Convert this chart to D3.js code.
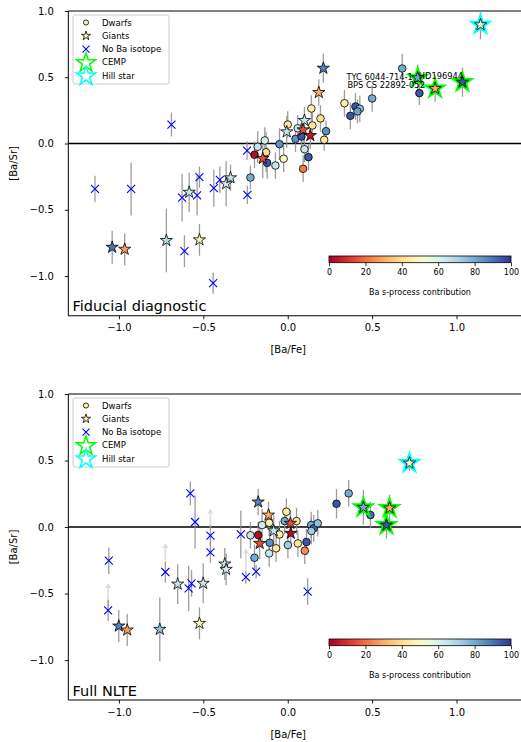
<!DOCTYPE html>
<html>
<head>
<meta charset="utf-8">
<script src="https://cdn.jsdelivr.net/npm/d3@7"></script>
<style>
  html, body { margin: 0; padding: 0; background: #fff; }
  svg { display: block; font-family: "DejaVu Sans", sans-serif; }
</style>
</head>
<body>
<svg id="chart" width="521" height="742"></svg>
<script>
// [Ba/Fe], [Ba/Sr], error, s-process fraction (%)
const fidDwarfs = [
  [-0.221, -0.257, 0.09, 80], [-0.197, -0.085, 0.10, 3], [-0.178, -0.025, 0.12, 65],
  [-0.136, 0.023, 0.10, 62], [-0.128, -0.066, 0.15, 40], [-0.122, -0.146, 0.12, 95],
  [-0.073, -0.166, 0.10, 65], [-0.049, -0.005, 0.12, 85], [-0.024, -0.115, 0.10, 50],
  [0.000, 0.143, 0.10, 43], [0.046, 0.035, 0.10, 85], [0.059, 0.115, 0.10, 65],
  [0.081, 0.053, 0.10, 95], [0.099, -0.043, 0.10, 65], [0.123, -0.103, 0.10, 95],
  [0.091, -0.191, 0.10, 22], [0.140, 0.264, 0.10, 45], [0.146, 0.136, 0.10, 42],
  [0.194, 0.189, 0.10, 40], [0.227, 0.093, 0.08, 85], [0.216, 0.028, 0.08, 42],
  [0.336, 0.304, 0.10, 45], [0.401, 0.279, 0.10, 95], [0.371, 0.209, 0.10, 95],
  [0.427, 0.262, 0.10, 75], [0.413, 0.242, 0.09, 82], [0.500, 0.340, 0.10, 80],
  [0.678, 0.566, 0.11, 80], [0.780, 0.380, 0.09, 95]
];
const fidGiants = [
  [-1.040, -0.783, 0.125, 90], [-0.966, -0.798, 0.12, 28], [-0.719, -0.732, 0.24, 68],
  [-0.523, -0.727, 0.12, 47], [-0.584, -0.368, 0.15, 65], [-0.365, -0.304, 0.17, 62],
  [-0.339, -0.259, 0.10, 66], [-0.148, -0.113, 0.15, 15], [-0.006, 0.088, 0.12, 65],
  [0.099, 0.174, 0.10, 65], [0.091, 0.103, 0.10, 15], [0.134, 0.060, 0.10, 5],
  [0.211, 0.568, 0.11, 88], [0.184, 0.385, 0.10, 30]
];
const fidCEMP = [
  [0.770, 0.496, 0.10, 80], [0.873, 0.415, 0.10, 30], [1.035, 0.463, 0.11, 95]
];
const fidHill = [[1.142, 0.896, 0.11, 55]];
const fidNoBa = [
  [-1.142, -0.343, 0.10], [-0.928, -0.343, 0.20], [-0.689, 0.143, 0.09],
  [-0.626, -0.408, 0.18], [-0.523, -0.254, 0.08], [-0.537, -0.392, 0.15],
  [-0.438, -0.337, 0.14], [-0.402, -0.274, 0.10], [-0.239, -0.387, 0.07],
  [-0.241, -0.053, 0.07], [-0.612, -0.813, 0.12], [-0.442, -1.054, 0.08]
];
const fidNames = ["TYC 6044-714-1", "BPS CS 22892-052", "HD196944"];

const nlteDwarfs = [
  [0.289, 0.175, 0.11, 95], [0.361, 0.253, 0.10, 80], [0.490, 0.090, 0.10, 92],
  [0.139, 0.015, 0.10, 80], [0.154, -0.010, 0.10, 92], [0.178, 0.028, 0.10, 75],
  [0.140, -0.030, 0.10, 72], [-0.008, 0.115, 0.10, 45], [-0.018, 0.045, 0.10, 80],
  [0.052, 0.045, 0.10, 42], [-0.221, -0.062, 0.10, 65], [-0.175, -0.060, 0.10, 3],
  [-0.152, 0.015, 0.12, 62], [-0.110, 0.032, 0.10, 45], [-0.049, -0.056, 0.10, 45],
  [-0.107, -0.118, 0.10, 85], [-0.069, -0.160, 0.10, 43], [-0.110, -0.198, 0.10, 65],
  [-0.197, -0.231, 0.10, 80], [0.001, -0.135, 0.10, 72], [0.060, -0.123, 0.10, 42],
  [0.111, -0.113, 0.10, 95], [0.101, -0.178, 0.10, 25]
];
const nlteGiants = [
  [-1.001, -0.744, 0.12, 88], [-0.951, -0.774, 0.12, 28], [-0.758, -0.769, 0.24, 75],
  [-0.523, -0.724, 0.12, 47], [-0.652, -0.429, 0.15, 65], [-0.501, -0.423, 0.15, 65],
  [-0.373, -0.278, 0.12, 65], [-0.365, -0.318, 0.12, 62], [-0.175, 0.188, 0.10, 88],
  [-0.114, 0.090, 0.10, 30], [-0.083, -0.028, 0.12, 65], [-0.166, -0.123, 0.12, 15],
  [0.016, 0.028, 0.10, 15], [0.018, -0.047, 0.10, 3]
];
const nlteCEMP = [
  [0.448, 0.148, 0.13, 80], [0.603, 0.143, 0.10, 30], [0.585, 0.015, 0.10, 95]
];
const nlteHill = [[0.721, 0.481, 0.06, 55]];
const nlteNoBa = [
  [-0.577, 0.253, 0.09], [-0.549, 0.038, 0.20], [-0.458, -0.065, 0.08],
  [-0.458, -0.190, 0.08], [-0.278, -0.055, 0.18], [-0.248, -0.376, 0.05],
  [-0.187, -0.335, 0.05], [0.118, -0.485, 0.10], [-1.060, -0.253, 0.10],
  [-1.064, -0.626, 0.08], [-0.725, -0.338, 0.08], [-0.587, -0.461, 0.17],
  [-0.570, -0.423, 0.10]
];
// upward shifts: [Ba/Fe], [Ba/Sr] start, [Ba/Sr] end
const nlteShifts = [
  [-1.064, -0.60, -0.42], [-0.725, -0.25, -0.12], [-0.458, 0.0, 0.14], [-0.248, -0.32, -0.16]
];

const xTicks = [-1.0, -0.5, 0.0, 0.5, 1.0];
const yTicks = [-1.0, -0.5, 0.0, 0.5, 1.0];
const cbTicks = [0, 20, 40, 60, 80, 100];
const legendLabels = ["Dwarfs", "Giants", "No Ba isotope", "CEMP", "Hill star"];

const svg = d3.select("#chart");
const color = s => d3.interpolateRdYlBu(s / 100);
const fmt = v => d3.format(".1f")(v).replace("-", "\u2212");

function starPath(R) {
  const r = R * 0.381966;
  let p = "";
  for (let i = 0; i < 10; i++) {
    const a = -Math.PI / 2 + i * Math.PI / 5;
    const rr = i % 2 ? r : R;
    p += (i ? "L" : "M") + (rr * Math.cos(a)).toFixed(2) + "," + (rr * Math.sin(a)).toFixed(2);
  }
  return p + "Z";
}

// colorbar gradient
const defs = svg.append("defs");
const grad = defs.append("linearGradient").attr("id", "rdylbu");
d3.range(0, 1.0001, 0.05).forEach(t => grad.append("stop")
  .attr("offset", t).attr("stop-color", d3.interpolateRdYlBu(t)));

function panel(cfg) {
  const x = d3.scaleLinear().domain([-1.3, 1.45]).range([68.3, 532.5]);
  const y = d3.scaleLinear().domain([-1.3, 1.0]).range([cfg.bottom, cfg.top]);
  const g = svg.append("g");

  const clipId = "clip" + cfg.key;
  defs.append("clipPath").attr("id", clipId).append("rect")
    .attr("x", 68.3).attr("y", cfg.top).attr("width", 470).attr("height", cfg.bottom - cfg.top);

  // axes
  const ya = g.append("g").attr("transform", "translate(68.3,0)")
    .call(d3.axisLeft(y).tickValues(yTicks).tickSize(3.5).tickPadding(11).tickFormat(fmt));
  const xa = g.append("g").attr("transform", `translate(0,${cfg.bottom})`)
    .call(d3.axisBottom(x).tickValues(xTicks).tickSize(3.5).tickPadding(5).tickFormat(fmt));
  [ya, xa].forEach(a => {
    a.select(".domain").remove();
    a.selectAll("line").attr("stroke", "#000").attr("stroke-width", 0.9);
    a.selectAll("text").attr("font-size", 10).attr("fill", "#000")
      .attr("font-family", "DejaVu Sans");
  });
  // spines
  g.append("line").attr("x1", 68.3).attr("x2", 68.3).attr("y1", cfg.top).attr("y2", cfg.bottom)
    .attr("stroke", "#000").attr("stroke-width", 1);
  g.append("line").attr("x1", 68.3).attr("x2", 521).attr("y1", cfg.top).attr("y2", cfg.top)
    .attr("stroke", "#000").attr("stroke-width", 1);
  g.append("line").attr("x1", 68.3).attr("x2", 521).attr("y1", cfg.bottom).attr("y2", cfg.bottom)
    .attr("stroke", "#000").attr("stroke-width", 1);

  g.append("text").attr("x", 14).attr("y", (cfg.top + cfg.bottom) / 2)
    .attr("transform", `rotate(-90,14,${(cfg.top + cfg.bottom) / 2})`)
    .attr("text-anchor", "middle").attr("dominant-baseline", "middle")
    .attr("font-size", 10).text("[Ba/Sr]");
  g.append("text").attr("x", x(0) + 0.5).attr("y", cfg.bottom + 37.5)
    .attr("text-anchor", "middle").attr("font-size", 10).text("[Ba/Fe]");

  const pg = g.append("g").attr("clip-path", `url(#${clipId})`);

  // zero line
  pg.append("line").attr("x1", 68.3).attr("x2", 532).attr("y1", y(0)).attr("y2", y(0))
    .attr("stroke", "#000").attr("stroke-width", 1.4);

  // shift arrows
  if (cfg.shifts) {
    cfg.shifts.forEach(d => {
      const xs = x(d[0]), y0 = y(d[1]), y1 = y(d[2]);
      pg.append("line").attr("x1", xs).attr("x2", xs).attr("y1", y0).attr("y2", y1 + 4)
        .attr("stroke", "#dcdcdc").attr("stroke-width", 1.6);
      pg.append("path").attr("d", `M${xs - 3},${y1 + 5}L${xs},${y1}L${xs + 3},${y1 + 5}Z`)
        .attr("fill", "#dcdcdc");
    });
  }

  // error bars
  const all = [].concat(cfg.noba, cfg.dwarfs, cfg.giants, cfg.cemp, cfg.hill);
  pg.append("g").selectAll("line").data(all).join("line")
    .attr("x1", d => x(d[0])).attr("x2", d => x(d[0]))
    .attr("y1", d => y(d[1] - d[2])).attr("y2", d => y(d[1] + d[2]))
    .attr("stroke", "#8c8c8c").attr("stroke-width", 1.3).attr("opacity", 0.85);

  // no Ba isotope crosses
  pg.append("g").selectAll("path").data(cfg.noba).join("path")
    .attr("transform", d => `translate(${x(d[0])},${y(d[1])})`)
    .attr("d", "M-4,-4L4,4M-4,4L4,-4")
    .attr("stroke", "#0000ff").attr("stroke-width", 1.1).attr("fill", "none");

  // dwarfs
  pg.append("g").selectAll("circle").data(cfg.dwarfs).join("circle")
    .attr("cx", d => x(d[0])).attr("cy", d => y(d[1])).attr("r", 3.8)
    .attr("fill", d => color(d[3])).attr("stroke", "#000").attr("stroke-width", 0.8);

  // giants
  pg.append("g").selectAll("path").data(cfg.giants).join("path")
    .attr("transform", d => `translate(${x(d[0])},${y(d[1])})`)
    .attr("d", starPath(6.4))
    .attr("fill", d => color(d[3])).attr("stroke", "#000").attr("stroke-width", 0.8);

  // CEMP and Hill star: highlighted outline behind a giant star
  [[cfg.cemp, "#00ff00"], [cfg.hill, "#00ffff"]].forEach(([arr, c]) => {
    const sg = pg.append("g");
    sg.selectAll("path.o").data(arr).join("path").attr("class", "o")
      .attr("transform", d => `translate(${x(d[0])},${y(d[1])})`)
      .attr("d", starPath(9.2))
      .attr("fill", "none").attr("stroke", c).attr("stroke-width", 2.4);
    sg.selectAll("path.i").data(arr).join("path").attr("class", "i")
      .attr("transform", d => `translate(${x(d[0])},${y(d[1])})`)
      .attr("d", starPath(6.4))
      .attr("fill", d => color(d[3])).attr("stroke", "#000").attr("stroke-width", 0.8);
  });

  // star name labels, placed to the left of each CEMP star
  if (cfg.names) {
    const off = [[-71.3, 1.8, "start"], [-87.7, -0.5, "start"], [0.7, -2.7, "end"]];
    cfg.names.forEach((n, i) => {
      const d = cfg.cemp[i];
      pg.append("text").attr("x", x(d[0]) + off[i][0]).attr("y", y(d[1]) + off[i][1])
        .attr("text-anchor", off[i][2]).attr("font-size", 8.3).attr("fill", "#000").text(n);
    });
  }

  // panel title
  g.append("text").attr("x", 72.5).attr("y", cfg.bottom - 4.5)
    .attr("font-size", 14.5).attr("fill", "#000").text(cfg.title);

  // legend
  const lg = g.append("g").attr("transform", `translate(73,${cfg.top + 4})`);
  lg.append("rect").attr("x", 0).attr("y", 0).attr("width", 96).attr("height", 69)
    .attr("rx", 2).attr("fill", "#fff").attr("fill-opacity", 0.8)
    .attr("stroke", "#cccccc").attr("stroke-width", 1);
  const ly = i => 7.5 + i * 13.3;
  lg.append("circle").attr("cx", 13).attr("cy", ly(0)).attr("r", 2.6)
    .attr("fill", color(45)).attr("stroke", "#000").attr("stroke-width", 0.8);
  lg.append("path").attr("transform", `translate(13,${ly(1)})`).attr("d", starPath(4.8))
    .attr("fill", color(45)).attr("stroke", "#000").attr("stroke-width", 0.8);
  lg.append("path").attr("transform", `translate(13,${ly(2)})`).attr("d", "M-3.5,-3.5L3.5,3.5M-3.5,3.5L3.5,-3.5")
    .attr("stroke", "#0000ff").attr("stroke-width", 1.1);
  lg.append("path").attr("transform", `translate(13,${ly(3) + 0.5})`).attr("d", starPath(10))
    .attr("fill", "none").attr("stroke", "#00ff00").attr("stroke-width", 1.5);
  lg.append("path").attr("transform", `translate(13,${ly(4) + 0.5})`).attr("d", starPath(10))
    .attr("fill", "none").attr("stroke", "#00ffff").attr("stroke-width", 1.5);
  legendLabels.forEach((t, i) => {
    lg.append("text").attr("x", 29).attr("y", ly(i) + 3).attr("font-size", 8.5)
      .attr("fill", "#000").text(t);
  });

  // colorbar
  const cbY = cfg.top + 245;
  const cx = d3.scaleLinear().domain([0, 100]).range([329, 511]);
  const cb = g.append("g");
  cb.append("rect").attr("x", 329).attr("y", cbY).attr("width", 182).attr("height", 6.7)
    .attr("fill", "url(#rdylbu)").attr("stroke", "#000").attr("stroke-width", 0.8);
  const ca = cb.append("g").attr("transform", `translate(0,${cbY + 6.7})`)
    .call(d3.axisBottom(cx).tickValues(cbTicks).tickSize(3.5).tickPadding(3));
  ca.select(".domain").remove();
  ca.selectAll("line").attr("stroke", "#000").attr("stroke-width", 0.8);
  ca.selectAll("text").attr("font-size", 8).attr("fill", "#000").attr("font-family", "DejaVu Sans");
  cb.append("text").attr("x", 420).attr("y", cbY + 39).attr("text-anchor", "middle")
    .attr("font-size", 8).attr("fill", "#000").text("Ba s-process contribution");
}

panel({ key: "fid", top: 11, bottom: 315.75, title: "Fiducial diagnostic",
  dwarfs: fidDwarfs, giants: fidGiants, cemp: fidCEMP, hill: fidHill, noba: fidNoBa, names: fidNames });
panel({ key: "nlte", top: 394, bottom: 700, title: "Full NLTE",
  dwarfs: nlteDwarfs, giants: nlteGiants, cemp: nlteCEMP, hill: nlteHill, noba: nlteNoBa, shifts: nlteShifts });
</script>
</body>
</html>
